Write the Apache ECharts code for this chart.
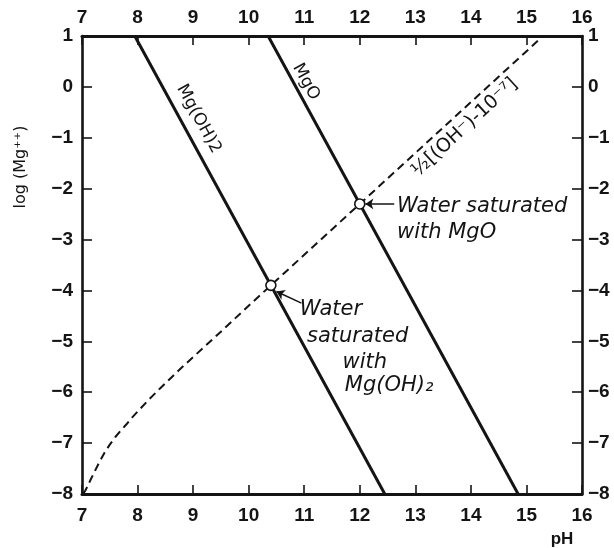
<!DOCTYPE html>
<html><head><meta charset="utf-8">
<script src="https://cdn.jsdelivr.net/npm/echarts@6/dist/echarts.min.js"></script>
<style>html,body{margin:0;padding:0;background:#fff}#c{width:614px;height:548px}</style>
</head><body><div id="c"></div>
<script>
// ---- data ----
const xTicks = [7, 8, 9, 10, 11, 12, 13, 14, 15, 16];
const xTickLabels = ['7', '8', '9', '10', '11', '12', '13', '14', '15', '16'];
const yTicks = [1, 0, -1, -2, -3, -4, -5, -6, -7, -8];
const yTickLabels = ['1', '0', '-1', '-2', '-3', '-4', '-5', '-6', '-7', '-8'];

// solubility lines  [pH, log(Mg++)]
const mgoh2Line = [[7.95, 1], [12.45, -8]];
const mgoLine = [[10.35, 1], [14.85, -8]];
// 1/2[(OH-) - 10^-7] curve
const ohCurve = [[7.02, -8.0], [7.06, -7.93], [7.1, -7.85], [7.15, -7.73], [7.2, -7.62], [7.3, -7.4],
  [7.4, -7.2], [7.5, -7.03], [7.6, -6.88], [7.7, -6.75], [7.8, -6.63], [7.9, -6.5], [8.0, -6.38],
  [8.2, -6.15], [8.4, -5.93], [8.6, -5.72], [8.8, -5.51], [9.0, -5.31], [9.5, -4.81], [10.0, -4.3],
  [10.4, -3.9], [12.0, -2.3], [15.3, 1.0]];
// saturation points (open circles)
const saturationPoints = [[10.4, -3.9], [12.0, -2.3]];

// text
const lineLabels = [
  { text: 'Mg(OH)2', at: [9.1, -0.63], along: mgoh2Line, size: 17 },
  { text: 'MgO', at: [11.03, 0.1], along: mgoLine, size: 17 },
  { text: '½[(OH⁻)-10⁻⁷]', at: [13.89, -0.8], along: [[12.0, -2.3], [15.0, 0.7]], size: 19 }
];
const notes = [
  { text: 'Water saturated', at: [12.67, -2.36] },
  { text: 'with MgO', at: [12.67, -2.87] },
  { text: 'Water', at: [10.92, -4.38] },
  { text: 'saturated', at: [11.05, -4.91] },
  { text: 'with', at: [11.69, -5.42] },
  { text: 'Mg(OH)₂', at: [11.73, -5.86] }
];
const arrows = [
  [[12.62, -2.3], [12.1, -2.3]],
  [[10.95, -4.25], [10.5, -4.02]]
];
const xTitle = 'pH';
const yTitle = 'log (Mg⁺⁺)';

// ---- chart ----
const ink = '#141414';
const tickFont = { fontFamily: 'Liberation Sans', fontWeight: 'bold', fontSize: 19, color: ink };
const xLab = v => xTickLabels[xTicks.indexOf(v)];
const yLab = v => { const i = yTicks.indexOf(v); return i < 0 ? '' : yTickLabels[i].replace('-', '−'); };

function xAxis(pos, margin) {
  return {
    type: 'value', position: pos, min: 7, max: 16, interval: 1,
    axisLine: { show: true, onZero: false, lineStyle: { color: ink, width: 3 } },
    axisTick: { show: true, inside: true, length: 9, lineStyle: { color: ink, width: 1.6 } },
    axisLabel: Object.assign({ margin: margin, formatter: xLab }, tickFont),
    splitLine: { show: false }
  };
}
function yAxis(pos, margin) {
  return {
    type: 'value', position: pos, min: -8, max: 1, interval: 1,
    axisLine: { show: true, onZero: false, lineStyle: { color: ink, width: 2.6 } },
    axisTick: { show: true, inside: true, length: 10, lineStyle: { color: ink, width: 1.6 } },
    axisLabel: Object.assign({ margin: margin, formatter: yLab }, tickFont),
    splitLine: { show: false }
  };
}

const chart = echarts.init(document.getElementById('c'));
chart.setOption({
  animation: false,
  backgroundColor: '#fff',
  grid: { left: 82, right: 32, top: 36, bottom: 54, containLabel: false },
  xAxis: [xAxis('bottom', 12), xAxis('top', 9)],
  yAxis: [yAxis('left', 9), yAxis('right', 6)],
  series: [
    { type: 'line', data: mgoh2Line, symbol: 'none', lineStyle: { color: ink, width: 3 }, z: 3 },
    { type: 'line', data: mgoLine, symbol: 'none', lineStyle: { color: ink, width: 3 }, z: 3 },
    { type: 'line', data: ohCurve, symbol: 'none', smooth: false,
      lineStyle: { color: ink, width: 2, type: [8, 5] }, z: 3 },
    { type: 'scatter', data: saturationPoints, symbol: 'circle', symbolSize: 10, z: 5,
      itemStyle: { color: '#fff', borderColor: ink, borderWidth: 1.6, opacity: 1 },
      markLine: {
        silent: true, symbol: ['none', 'arrow'], symbolSize: 8,
        lineStyle: { color: ink, width: 1.5, type: 'solid' },
        label: { show: false },
        data: arrows.map(a => [{ coord: a[0] }, { coord: a[1] }])
      }
    }
  ]
});

const px = p => chart.convertToPixel({ xAxisIndex: 0, yAxisIndex: 0 }, p);
const graphics = [];
lineLabels.forEach(l => {
  const c = px(l.at), a = px(l.along[0]), b = px(l.along[1]);
  let ang = Math.atan2(-(b[1] - a[1]), b[0] - a[0]);
  if (ang > Math.PI / 2) ang -= Math.PI;
  if (ang < -Math.PI / 2) ang += Math.PI;
  graphics.push({ type: 'text', x: c[0], y: c[1], rotation: ang, z: 10,
    style: { text: l.text, font: l.size + 'px "DejaVu Sans"', fill: ink, align: 'center', verticalAlign: 'middle',
      textAlign: 'center', textVerticalAlign: 'middle' } });
});
notes.forEach(n => {
  const c = px(n.at);
  graphics.push({ type: 'text', x: c[0], y: c[1], z: 10,
    style: { text: n.text, font: 'italic 21px "DejaVu Sans"', fill: ink, align: 'left', verticalAlign: 'middle',
      textAlign: 'left', textVerticalAlign: 'middle' } });
});
graphics.push({ type: 'text', x: 562, y: 539, z: 10,
  style: { text: xTitle, font: 'bold 17px "Liberation Sans"', fill: ink, align: 'center', verticalAlign: 'middle',
    textAlign: 'center', textVerticalAlign: 'middle' } });
graphics.push({ type: 'text', x: 21, y: 167, rotation: Math.PI / 2, z: 10,
  style: { text: yTitle, font: '16px "DejaVu Sans"', fill: ink, align: 'center', verticalAlign: 'middle',
    textAlign: 'center', textVerticalAlign: 'middle' } });
chart.setOption({ graphic: graphics });
</script>
</body></html>
